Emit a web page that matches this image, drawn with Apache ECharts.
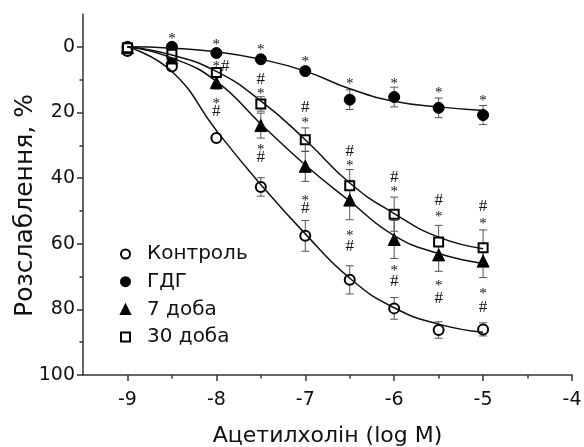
<!DOCTYPE html>
<html>
<head>
<meta charset="utf-8">
<script src="https://cdn.jsdelivr.net/npm/echarts@6/dist/echarts.min.js"></script>
<style>html,body{margin:0;padding:0;background:#fff}#c{width:584px;height:447px}</style>
</head>
<body>
<div id="c"></div>
<script>
// ---- data ----
var doses = [-9, -8.5, -8, -7.5, -7, -6.5, -6, -5.5, -5];
var seriesNames = ['Контроль', 'ГДГ', '7 доба', '30 доба'];

var controlMean = [1.3, 6, 27.8, 42.7, 57.6, 71, 79.7, 86.3, 86.1];
var controlErr  = [1, 1, 1, 2.8, 4.7, 4.3, 3.3, 2.5, 2];
var gdgMean     = [0, 0, 1.9, 3.8, 7.4, 16.1, 15.3, 18.6, 20.8];
var gdgErr      = [0.5, 0.8, 0.8, 0.8, 1.2, 3, 3, 3, 2.9];
var day7Mean    = [0.3, 3.4, 10.9, 24, 36.4, 46.7, 58.7, 63.4, 65.3];
var day7Err     = [0.5, 1, 2, 3.8, 4.6, 6, 5.8, 5, 5];
var day30Mean   = [0.3, 2.3, 7.8, 17.4, 28.3, 42.3, 51, 59.5, 61.2];
var day30Err    = [1, 1.2, 1.5, 2.2, 3.6, 4.9, 5.2, 5.1, 5.4];

// fitted curves
var controlFit = [0, 7.5, 25.5, 42, 57, 70.5, 79.5, 84.5, 87];
var gdgFit     = [0, 0.4, 1.5, 3.8, 7.4, 12.8, 16.6, 18.3, 19.4];
var day7Fit    = [0, 3.4, 10.5, 23.5, 36, 47, 57.5, 63, 66];
var day30Fit   = [0, 2.5, 7.5, 16.5, 28.3, 41.5, 50.8, 58, 61.5];

// significance marks [dose, level, mark]
var gdgMarks = [[-8.5,-3.3,'*'],[-8,-1.4,'*'],[-7.5,0,'*'],[-7,3.7,'*'],[-6.5,10.5,'*'],[-6,10.5,'*'],[-5.5,13.2,'*'],[-5,15.6,'*']];
var day30Marks = [[-8,5.3,'*'],[-7.9,6,'#'],[-7.5,10,'#'],[-7.5,13.5,'*'],[-7,18.6,'#'],[-7,22.2,'*'],[-6.5,31.8,'#'],[-6.5,35.4,'*'],[-6,39.8,'#'],[-6,43.2,'*'],[-5.5,46.8,'#'],[-5.5,51,'*'],[-5,48.8,'#'],[-5,53,'*']];
var controlMarks = [[-8,16.6,'*'],[-8,19.6,'#'],[-7.5,30.5,'*'],[-7.5,33.6,'#'],[-7,46.1,'*'],[-7,49.3,'#'],[-6.5,56.6,'*'],[-6.5,60.8,'#'],[-6,67.5,'*'],[-6,71.5,'#'],[-5.5,72,'*'],[-5.5,76.6,'#'],[-5,74.3,'*'],[-5,79.3,'#']];

var xMajor = [-9, -8, -7, -6, -5, -4];
var xMinor = [-8.5, -7.5, -6.5, -5.5, -4.5];
var yMajor = [0, 20, 40, 60, 80, 100];
var yMinor = [10, 30, 50, 70, 90];

// ---- build ----
function pairs(ys) { return doses.map(function (d, i) { return [d, ys[i]]; }); }
function triples(ys, es) { return doses.map(function (d, i) { return [d, ys[i], es[i]]; }); }

var FONT = 'DejaVu Sans';
var AX = '#333';

function errBarSeries(ys, es) {
  return {
    type: 'custom', z: 1, silent: true,
    data: triples(ys, es),
    renderItem: function (params, api) {
      var x = api.value(0), y = api.value(1), e = api.value(2);
      var a = api.coord([x, y - e]), b = api.coord([x, y + e]);
      var w = 4;
      var st = { stroke: '#555', lineWidth: 1 };
      return { type: 'group', children: [
        { type: 'line', shape: { x1: a[0], y1: a[1], x2: b[0], y2: b[1] }, style: st },
        { type: 'line', shape: { x1: a[0] - w, y1: a[1], x2: a[0] + w, y2: a[1] }, style: st },
        { type: 'line', shape: { x1: b[0] - w, y1: b[1], x2: b[0] + w, y2: b[1] }, style: st }
      ]};
    }
  };
}
function fitSeries(ys) {
  return { type: 'line', z: 3, silent: true, data: pairs(ys), smooth: 0.5,
    symbol: 'none', lineStyle: { color: '#111', width: 1.5 } };
}
function pointSeries(name, ys, symbol, size) {
  return { type: 'scatter', name: name, z: 2, data: pairs(ys), symbol: symbol, symbolSize: size,
    itemStyle: { color: '#000', borderColor: '#000', borderWidth: 1, opacity: 1 } };
}
function markSeries(marks) {
  return {
    type: 'custom', z: 4, silent: true, data: marks,
    renderItem: function (params, api) {
      var p = api.coord([api.value(0), api.value(1)]);
      var t = marks[params.dataIndex][2];
      return { type: 'text', x: p[0], y: p[1] + (t === '*' ? 3 : 0), style: {
        text: t, fill: '#111', font: (t === '*' ? '15px' : '17px') + ' "Liberation Serif"', align: 'center', verticalAlign: 'middle' } };
    }
  };
}

var chart = echarts.init(document.getElementById('c'), null, { renderer: 'canvas' });
chart.setOption({
  animation: false,
  backgroundColor: '#fff',
  grid: { left: 83, top: 14, right: 12, bottom: 72, containLabel: false, outerBoundsMode: 'none' },
  legend: {
    orient: 'vertical', left: 115, top: 239,
    data: seriesNames,
    itemWidth: 9, itemHeight: 9, itemGap: 7.7,
    selectedMode: false,
    textStyle: { fontFamily: FONT, fontSize: 20, lineHeight: 20, color: '#111', padding: [0, 0, 0, 12] }
  },
  xAxis: [{
    type: 'value', min: -9.5, max: -4, interval: 0.5,
    name: 'Ацетилхолін (log M)', nameLocation: 'middle', nameGap: 50,
    nameTextStyle: { fontFamily: FONT, fontSize: 22, color: '#111' },
    axisLine: { onZero: false, lineStyle: { color: AX, width: 1.5 } },
    axisTick: { customValues: xMajor, length: 6, lineStyle: { color: AX, width: 1.5 } },
    axisLabel: { customValues: xMajor, margin: 16, fontFamily: FONT, fontSize: 19, color: '#111' },
    splitLine: { show: false }
  }, {
    type: 'value', min: -9.5, max: -4, interval: 0.5, position: 'bottom',
    axisLine: { show: false, onZero: false },
    axisTick: { customValues: xMinor, length: 3.5, lineStyle: { color: AX, width: 1.5 } },
    axisLabel: { show: false }, splitLine: { show: false }
  }],
  yAxis: [{
    type: 'value', inverse: true, min: -10, max: 100, interval: 10,
    name: 'Розслаблення, %', nameLocation: 'middle', nameGap: 45, nameMoveOverlap: false,
    nameTextStyle: { fontFamily: FONT, fontSize: 25, color: '#111', padding: [0, 22, 0, 0] },
    axisLine: { show: true, lineStyle: { color: AX, width: 1.5 } },
    axisTick: { show: true, customValues: yMajor, length: 6, lineStyle: { color: AX, width: 1.5 } },
    axisLabel: { customValues: yMajor, margin: 8, fontFamily: FONT, fontSize: 19, color: '#111' },
    splitLine: { show: false }
  }, {
    type: 'value', inverse: true, min: -10, max: 100, interval: 10, position: 'left',
    axisLine: { show: false },
    axisTick: { show: true, customValues: yMinor, length: 3.5, lineStyle: { color: AX, width: 1.5 } },
    axisLabel: { show: false }, splitLine: { show: false }
  }],
  series: [
    errBarSeries(controlMean, controlErr),
    errBarSeries(gdgMean, gdgErr),
    errBarSeries(day7Mean, day7Err),
    errBarSeries(day30Mean, day30Err),
    pointSeries(seriesNames[0], controlMean, 'emptyCircle', 10),
    pointSeries(seriesNames[1], gdgMean, 'circle', 11),
    pointSeries(seriesNames[2], day7Mean, 'triangle', 12),
    pointSeries(seriesNames[3], day30Mean, 'emptyRect', 9),
    fitSeries(controlFit),
    fitSeries(gdgFit),
    fitSeries(day7Fit),
    fitSeries(day30Fit),
    markSeries(gdgMarks),
    markSeries(day30Marks),
    markSeries(controlMarks)
  ]
});
</script>
</body>
</html>
